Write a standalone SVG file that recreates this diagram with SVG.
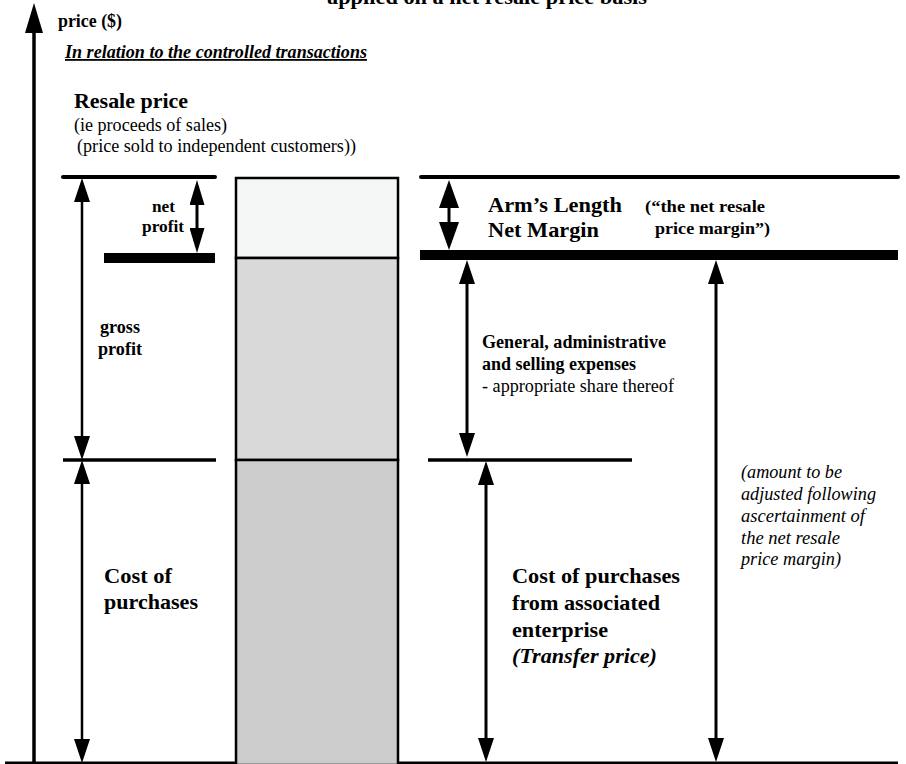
<svg xmlns="http://www.w3.org/2000/svg" width="906" height="764" viewBox="0 0 906 764">
<style>
text { font-family: "Liberation Serif", "Times New Roman", serif; fill: #000; }
.b { font-weight: bold; }
.i { font-style: italic; }
.s18 { font-size: 18px; }
.s22 { font-size: 22px; }
.ln { stroke: #000; fill: none; }
.arr { stroke: #000; stroke-width: 3; fill: none; }
.arrL { stroke: #000; stroke-width: 2.5; fill: none; }
.bar { stroke: #000; stroke-width: 2.5; }
</style>
<defs>
<marker id="ah" markerUnits="userSpaceOnUse" viewBox="0 0 24 16" refX="12" refY="8" markerWidth="24" markerHeight="16" orient="auto-start-reverse">
<path d="M0,0 L24,8 L0,16 z" fill="#000"/>
</marker>
<marker id="ahs" markerUnits="userSpaceOnUse" viewBox="0 0 25 15" refX="12.5" refY="7.5" markerWidth="25" markerHeight="15" orient="auto-start-reverse">
<path d="M0,0 L25,7.5 L0,15 z" fill="#000"/>
</marker>
<marker id="ahw" markerUnits="userSpaceOnUse" viewBox="0 0 28 20" refX="14" refY="10" markerWidth="28" markerHeight="20" orient="auto-start-reverse">
<path d="M0,0 L28,10 L0,20 z" fill="#000"/>
</marker>
<marker id="axh" markerUnits="userSpaceOnUse" viewBox="0 0 30 18" refX="15" refY="9" markerWidth="30" markerHeight="18" orient="auto">
<path d="M0,0 L30,9 L0,18 z" fill="#000"/>
</marker>
</defs>
<rect width="906" height="764" fill="#fff"/>

<g id="title">
<text class="b s22" x="327" y="4" textLength="320" lengthAdjust="spacingAndGlyphs">applied on a net resale price basis</text>
</g>

<g id="axes">
<line class="ln" x1="34" y1="763" x2="34" y2="18" stroke-width="3.5" marker-end="url(#axh)"/>
<line class="ln" x1="5" y1="763" x2="898" y2="763" stroke-width="3"/>
<text class="b s18" x="58" y="27" textLength="64" lengthAdjust="spacingAndGlyphs">price ($)</text>
</g>

<g id="heading">
<text class="b i s18" x="65" y="58" text-decoration="underline" textLength="302" lengthAdjust="spacingAndGlyphs">In relation to the controlled transactions</text>
</g>

<g id="resale-price">
<text class="b" font-size="21" x="74" y="108" textLength="114" lengthAdjust="spacingAndGlyphs">Resale price</text>
<text class="s18" x="74" y="131" textLength="153" lengthAdjust="spacingAndGlyphs">(ie proceeds of sales)</text>
<text class="s18" x="77" y="152" textLength="279" lengthAdjust="spacingAndGlyphs">(price sold to independent customers))</text>
</g>

<g id="left-levels">
<line class="ln" x1="63" y1="177" x2="215" y2="177" stroke-width="4" stroke-linecap="round"/>
<line class="ln" x1="104" y1="258" x2="215" y2="258" stroke-width="10"/>
<line class="ln" x1="63" y1="460" x2="216" y2="460" stroke-width="3.5"/>
</g>

<g id="net-profit">
<text class="b" font-size="17" x="152" y="212" textLength="23" lengthAdjust="spacingAndGlyphs">net</text>
<text class="b" font-size="17" x="142" y="232" textLength="42" lengthAdjust="spacingAndGlyphs">profit</text>
</g>

<g id="gross-profit">
<text class="b s18" x="100" y="333" textLength="40" lengthAdjust="spacingAndGlyphs">gross</text>
<text class="b s18" x="98" y="355" textLength="44" lengthAdjust="spacingAndGlyphs">profit</text>
</g>

<g id="cost-left">
<text class="b s22" x="104" y="583" textLength="68" lengthAdjust="spacingAndGlyphs">Cost of</text>
<text class="b s22" x="104" y="609" textLength="94" lengthAdjust="spacingAndGlyphs">purchases</text>
</g>

<g id="bar">
<rect class="bar" x="236" y="178" width="162" height="80" fill="#f5f6f6"/>
<rect class="bar" x="236" y="258" width="162" height="202" fill="#d9d9d9"/>
<rect class="bar" x="236" y="460" width="162" height="305" fill="#cccccc"/>
</g>

<g id="right-levels">
<line class="ln" x1="421" y1="177" x2="898" y2="177" stroke-width="4" stroke-linecap="round"/>
<line class="ln" x1="420" y1="255" x2="898" y2="255" stroke-width="10"/>
<line class="ln" x1="428" y1="460" x2="632" y2="460" stroke-width="3.5"/>
</g>

<g id="arms-length">
<text class="b s22" x="488" y="212" textLength="134" lengthAdjust="spacingAndGlyphs">Arm’s Length</text>
<text class="b s22" x="488" y="237" textLength="111" lengthAdjust="spacingAndGlyphs">Net Margin</text>
<text class="b" font-size="17" x="645" y="212" textLength="120" lengthAdjust="spacingAndGlyphs">(“the net resale</text>
<text class="b" font-size="17" x="655" y="234" textLength="115" lengthAdjust="spacingAndGlyphs">price margin”)</text>
</g>

<g id="ga-expenses">
<text class="b s18" x="482" y="348" textLength="184" lengthAdjust="spacingAndGlyphs">General, administrative</text>
<text class="b s18" x="482" y="370" textLength="154" lengthAdjust="spacingAndGlyphs">and selling expenses</text>
<text class="s18" x="482" y="392" textLength="192" lengthAdjust="spacingAndGlyphs">- appropriate share thereof</text>
</g>

<g id="cost-right">
<text class="b s22" x="512" y="583" textLength="168" lengthAdjust="spacingAndGlyphs">Cost of purchases</text>
<text class="b s22" x="512" y="610" textLength="148" lengthAdjust="spacingAndGlyphs">from associated</text>
<text class="b s22" x="512" y="637" textLength="96" lengthAdjust="spacingAndGlyphs">enterprise</text>
<text class="b i s22" x="512" y="663" textLength="145" lengthAdjust="spacingAndGlyphs">(Transfer price)</text>
</g>

<g id="adjust-note">
<text class="i s18" x="741" y="478" textLength="101" lengthAdjust="spacingAndGlyphs">(amount to be</text>
<text class="i s18" x="741" y="500" textLength="135" lengthAdjust="spacingAndGlyphs">adjusted following</text>
<text class="i s18" x="741" y="522" textLength="124" lengthAdjust="spacingAndGlyphs">ascertainment of</text>
<text class="i s18" x="741" y="544" textLength="99" lengthAdjust="spacingAndGlyphs">the net resale</text>
<text class="i s18" x="741" y="565" textLength="100" lengthAdjust="spacingAndGlyphs">price margin)</text>
</g>

<g id="connectors">
<line class="arrL" x1="82" y1="190" x2="82" y2="448" marker-start="url(#ah)" marker-end="url(#ah)"/>
<line class="arrL" x1="82" y1="472" x2="82" y2="751" marker-start="url(#ah)" marker-end="url(#ah)"/>
<line class="arr" x1="197" y1="192.5" x2="197" y2="240.5" marker-start="url(#ahs)" marker-end="url(#ahs)"/>
<line class="arr" x1="449" y1="194" x2="449" y2="236" marker-start="url(#ahw)" marker-end="url(#ahw)"/>
<line class="arr" x1="467" y1="272" x2="467" y2="445" marker-start="url(#ah)" marker-end="url(#ah)"/>
<line class="arr" x1="486" y1="473" x2="486" y2="750" marker-start="url(#ah)" marker-end="url(#ah)"/>
<line class="arr" x1="716" y1="272" x2="716" y2="750" marker-start="url(#ah)" marker-end="url(#ah)"/>
</g>
</svg>
